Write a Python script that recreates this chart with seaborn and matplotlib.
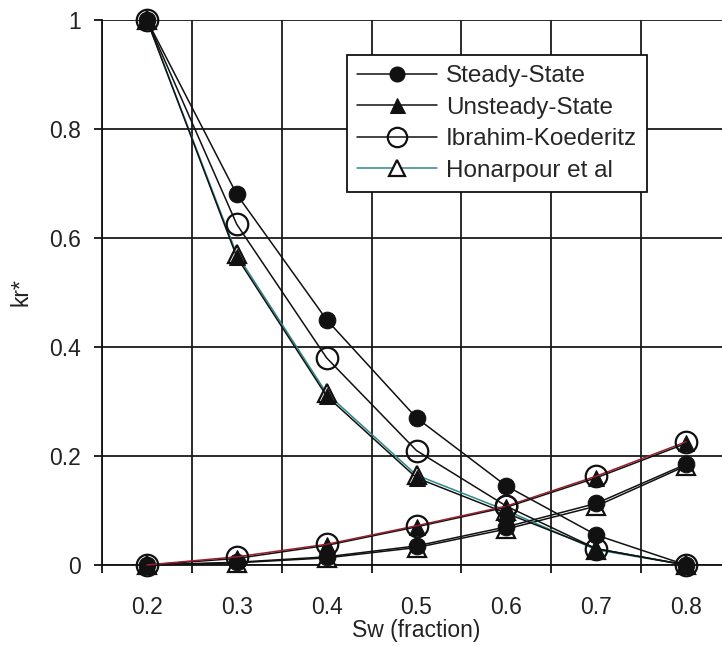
import matplotlib
matplotlib.use("Agg")
import matplotlib.pyplot as plt
import seaborn as sns

sw = [0.2, 0.3, 0.4, 0.5, 0.6, 0.7, 0.8]

# oil relative permeability (decreasing curves)
steady_kro = [1.0, 0.68, 0.45, 0.27, 0.145, 0.055, 0.0]
unsteady_kro = [1.0, 0.565, 0.31, 0.16, 0.095, 0.03, 0.0]
ibrahim_kro = [1.0, 0.625, 0.38, 0.21, 0.108, 0.03, 0.0]
honarpour_kro = [1.0, 0.57, 0.315, 0.165, 0.1, 0.028, 0.0]

# water relative permeability (increasing curves)
steady_krw = [0.0, 0.005, 0.015, 0.035, 0.07, 0.113, 0.185]
unsteady_krw = [0.0, 0.012, 0.036, 0.07, 0.106, 0.16, 0.223]
ibrahim_krw = [0.0, 0.015, 0.038, 0.072, 0.108, 0.163, 0.226]
honarpour_krw = [0.0, 0.004, 0.013, 0.032, 0.066, 0.108, 0.182]

labels = ["Steady-State", "Unsteady-State", "Ibrahim-Koederitz", "Honarpour et al"]
x_ticks = [0.2, 0.3, 0.4, 0.5, 0.6, 0.7, 0.8]
x_tick_labels = ["0.2", "0.3", "0.4", "0.5", "0.6", "0.7", "0.8"]
y_ticks = [0, 0.2, 0.4, 0.6, 0.8, 1.0]
y_tick_labels = ["0", "0.2", "0.4", "0.6", "0.8", "1"]

sns.set_style("white")
plt.rcParams["font.family"] = ["Liberation Sans", "DejaVu Sans"]
FS = 16.5

fig = plt.figure(figsize=(7.22, 6.46), dpi=100)
ax = fig.add_axes([102 / 722, 81 / 646, (731 - 102) / 722, 545 / 646])

teal = "#2e8a8a"
red = "#9a1f2e"
blk = "#111111"

styles = {
    "steady": dict(marker="o", markersize=12, markerfacecolor=blk, markeredgecolor=blk),
    "unsteady": dict(marker="^", markersize=12, markerfacecolor=blk, markeredgecolor=blk),
    "ibrahim": dict(marker="o", markersize=15.5, markerfacecolor="none", markeredgecolor=blk, markeredgewidth=1.6),
    "honarpour": dict(marker="^", markersize=13, markerfacecolor="white", markeredgecolor=blk, markeredgewidth=1.6),
}

def draw(y, color, st, label=None, z=3):
    sns.lineplot(x=sw, y=y, ax=ax, color=color, linewidth=1.1, clip_on=False,
                 label=label, zorder=z, legend=False, **st)

# water curves
draw(honarpour_krw, blk, styles["honarpour"], z=3)
draw(steady_krw, blk, styles["steady"], z=4)
draw(unsteady_krw, blk, styles["unsteady"], z=4)
draw(ibrahim_krw, red, styles["ibrahim"], z=5)

# oil curves
draw(honarpour_kro, teal, styles["honarpour"], label=labels[3], z=3)
draw(unsteady_kro, blk, styles["unsteady"], label=labels[1], z=4)
draw(ibrahim_kro, blk, styles["ibrahim"], label=labels[2], z=5)
draw(steady_kro, blk, styles["steady"], label=labels[0], z=6)

ax.set_xlim(0.15, 0.85)
ax.set_ylim(0, 1.0)

# grid at category boundaries (major), labels at minor positions
ax.set_xticks([0.15, 0.25, 0.35, 0.45, 0.55, 0.65, 0.75, 0.85])
ax.set_xticklabels([])
ax.set_xticks(x_ticks, minor=True)
ax.set_xticklabels(x_tick_labels, minor=True, fontsize=FS, color="#222222")
ax.tick_params(axis="x", which="major", direction="out", length=6, width=1.3, color=blk, bottom=True)
ax.tick_params(axis="x", which="minor", length=0, pad=22)

ax.set_yticks(y_ticks)
ax.set_yticklabels(y_tick_labels, fontsize=FS, color="#222222")
ax.tick_params(axis="y", which="major", direction="out", length=6, width=1.3, color=blk, left=True, pad=9)

ax.grid(True, which="major", color="#1a1a1a", linewidth=1.3)
ax.set_axisbelow(True)
for s in ["left", "bottom"]:
    ax.spines[s].set_color(blk)
    ax.spines[s].set_linewidth(1.3)
for s in ["right", "top"]:
    ax.spines[s].set_visible(False)

ax.set_xlabel("Sw (fraction)", fontsize=FS, labelpad=0, color="#222222")
ax.set_ylabel("kr*", fontsize=FS, labelpad=12, color="#222222")

handles, labs = ax.get_legend_handles_labels()
order = [labs.index(l) for l in labels]
leg = ax.legend([handles[i] for i in order], [labs[i] for i in order],
                loc="upper left", bbox_to_anchor=((347 - 102) / 629, (565 - 55) / 545),
                borderaxespad=0, fontsize=17.5, frameon=True, fancybox=False,
                edgecolor=blk, framealpha=1, handlelength=3.3, handletextpad=0.35,
                labelspacing=0.39, borderpad=0.42, markerscale=0.9)
leg.get_frame().set_linewidth(1.3)
leg.set_zorder(10)

fig.savefig("out.png", dpi=100)
